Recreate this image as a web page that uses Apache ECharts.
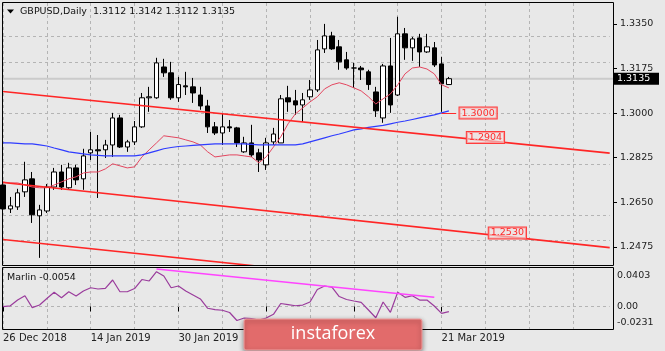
<!DOCTYPE html>
<html>
<head>
<meta charset="utf-8">
<script src="https://cdn.jsdelivr.net/npm/echarts@6/dist/echarts.min.js"></script>
<style>
html,body{margin:0;padding:0;background:#e8e8e8;}
#main{width:665px;height:351px;}
</style>
</head>
<body>
<div id="main"></div>
<script>
// GBPUSD daily bars, 26 Dec 2018 - 22 Mar 2019
var dates = ['26 Dec 2018','27 Dec 2018','28 Dec 2018','31 Dec 2018','2 Jan 2019','3 Jan 2019','4 Jan 2019','7 Jan 2019','8 Jan 2019','9 Jan 2019',
	'10 Jan 2019','11 Jan 2019','14 Jan 2019','15 Jan 2019','16 Jan 2019','17 Jan 2019','18 Jan 2019','21 Jan 2019','22 Jan 2019','23 Jan 2019',
	'24 Jan 2019','25 Jan 2019','28 Jan 2019','29 Jan 2019','30 Jan 2019','31 Jan 2019','1 Feb 2019','4 Feb 2019','5 Feb 2019','6 Feb 2019',
	'7 Feb 2019','8 Feb 2019','11 Feb 2019','12 Feb 2019','13 Feb 2019','14 Feb 2019','15 Feb 2019','18 Feb 2019','19 Feb 2019','20 Feb 2019',
	'21 Feb 2019','22 Feb 2019','25 Feb 2019','26 Feb 2019','27 Feb 2019','28 Feb 2019','1 Mar 2019','4 Mar 2019','5 Mar 2019','6 Mar 2019',
	'7 Mar 2019','8 Mar 2019','11 Mar 2019','12 Mar 2019','13 Mar 2019','14 Mar 2019','15 Mar 2019','18 Mar 2019','19 Mar 2019','20 Mar 2019',
	'21 Mar 2019','22 Mar 2019'];

var openP = [1.2718,1.2624,1.2632,1.2691,1.2742,1.2597,1.2616,1.2710,1.2769,1.2707,
	1.2785,1.2742,1.2844,1.2856,1.2856,1.2875,1.2981,1.2867,1.2887,1.2946,
	1.3060,1.3060,1.3181,1.3158,1.3060,1.3107,1.3103,1.3071,1.3028,1.2946,
	1.2922,1.2946,1.2942,1.2848,1.2883,1.2844,1.2797,1.2887,1.2883,1.3060,
	1.3048,1.3032,1.3064,1.3091,1.3252,1.3303,1.3260,1.3209,1.3177,1.3177,
	1.3162,1.3083,1.2981,1.3185,1.3071,1.3311,1.3256,1.3295,1.3240,1.3256,
	1.3193,1.3112];
var highP = [1.2726,1.2671,1.2703,1.2809,1.2769,1.2640,1.2722,1.2785,1.2797,1.2805,
	1.2797,1.2860,1.2926,1.2914,1.2895,1.3001,1.2993,1.2895,1.2969,1.3079,
	1.3103,1.3217,1.3213,1.3201,1.3142,1.3162,1.3138,1.3103,1.3052,1.2965,
	1.2997,1.2973,1.2946,1.2907,1.2954,1.2860,1.2903,1.2942,1.3071,1.3107,
	1.3091,1.3079,1.3130,1.3287,1.3350,1.3319,1.3287,1.3240,1.3197,1.3185,
	1.3170,1.3103,1.3193,1.3295,1.3378,1.3334,1.3299,1.3311,1.3311,1.3279,
	1.3221,1.3142];
var lowP = [1.2612,1.2608,1.2620,1.2671,1.2569,1.2432,1.2608,1.2699,1.2699,1.2703,
	1.2718,1.2699,1.2816,1.2667,1.2824,1.2828,1.2863,1.2848,1.2875,1.2942,
	1.3005,1.3056,1.3142,1.3052,1.3044,1.3071,1.3040,1.3013,1.2922,1.2914,
	1.2875,1.2926,1.2867,1.2844,1.2828,1.2769,1.2777,1.2875,1.2883,1.3005,
	1.2993,1.2965,1.3052,1.3083,1.3236,1.3248,1.3170,1.3170,1.3099,1.3130,
	1.3091,1.2985,1.2962,1.3001,1.3067,1.3209,1.3205,1.3181,1.3236,1.3181,
	1.3005,1.3112];
var closeP = [1.2624,1.2636,1.2687,1.2738,1.2601,1.2620,1.2710,1.2769,1.2710,1.2785,
	1.2738,1.2832,1.2856,1.2852,1.2875,1.2981,1.2867,1.2887,1.2946,1.3060,
	1.3064,1.3197,1.3158,1.3060,1.3112,1.3103,1.3079,1.3028,1.2946,1.2922,
	1.2946,1.2942,1.2883,1.2883,1.2836,1.2816,1.2883,1.2918,1.3056,1.3044,
	1.3032,1.3052,1.3091,1.3248,1.3303,1.3252,1.3201,1.3177,1.3177,1.3170,
	1.3112,1.3009,1.3185,1.3032,1.3311,1.3256,1.3291,1.3240,1.3260,1.3189,
	1.3115,1.3135];

// moving averages as drawn (red fast, blue slow)
var maFast = [1.2730,1.2726,1.2726,1.2718,1.2710,1.2707,1.2707,1.2718,1.2730,1.2742,
	1.2750,1.2765,1.2769,1.2769,1.2781,1.2801,1.2793,1.2785,1.2789,1.2828,
	1.2856,1.2883,1.2911,1.2907,1.2903,1.2895,1.2887,1.2875,1.2848,1.2828,
	1.2832,1.2836,1.2836,1.2832,1.2828,1.2805,1.2828,1.2867,1.2907,1.2958,
	1.2997,1.3020,1.3044,1.3064,1.3095,1.3111,1.3119,1.3111,1.3099,1.3087,
	1.3064,1.3036,1.3056,1.3075,1.3111,1.3154,1.3177,1.3181,1.3173,1.3154,
	1.3111,1.3099];
var maSlow = [1.2883,1.2883,1.2881,1.2879,1.2879,1.2875,1.2871,1.2863,1.2856,1.2848,
	1.2844,1.2840,1.2836,1.2834,1.2832,1.2832,1.2832,1.2832,1.2832,1.2836,
	1.2844,1.2852,1.2860,1.2865,1.2869,1.2871,1.2873,1.2875,1.2877,1.2879,
	1.2879,1.2879,1.2879,1.2879,1.2877,1.2875,1.2875,1.2875,1.2875,1.2875,
	1.2875,1.2879,1.2887,1.2895,1.2903,1.2911,1.2918,1.2926,1.2934,1.2938,
	1.2944,1.2948,1.2952,1.2958,1.2964,1.2969,1.2975,1.2981,1.2987,1.2993,
	1.3001,1.3009];

var marlin = [-0.0003,0.0006,0.0065,0.0109,-0.0013,0.0014,0.0081,0.0144,0.0089,0.0150,
	0.0106,0.0157,0.0191,0.0178,0.0185,0.0270,0.0150,0.0150,0.0183,0.0275,
	0.0260,0.0355,0.0311,0.0191,0.0209,0.0157,0.0117,0.0076,-0.0019,-0.0032,
	-0.0039,-0.0062,-0.0144,-0.0119,-0.0124,-0.0139,-0.0119,-0.0081,0.0030,0.0019,
	0.0007,0.0014,0.0045,0.0173,0.0209,0.0196,0.0101,0.0071,0.0055,0.0042,
	-0.0037,-0.0116,0.0045,-0.0060,0.0144,0.0093,0.0109,0.0065,0.0065,0.0004,
	-0.0071,-0.0054];

var priceTicks = [1.2475,1.2650,1.2825,1.3000,1.3175,1.3350];
var marlinTicks = [0.0403,0.00,-0.0231];

// trend lines: [bar, value] end points
var trendTop = [[0,1.3085],[83,1.2843]];
var trendMid = [[0,1.2728],[83,1.2472]];
var trendLow = [[0,1.2504],[83,1.2255]];
var marlinTrend = [[21,0.0382],[59,0.0093]];

var levelTags = [
	{bar:65,value:1.3000,text:'1.3000'},
	{bar:66,value:1.2904,text:'1.2904'},
	{bar:69,value:1.2530,text:'1.2530'}
];

var fontFam = '"DejaVu Sans", sans-serif';
var nSlots = 84;
var cats = dates.slice();
while (cats.length < nSlots) cats.push('');
var candles = [];
for (var i = 0; i < dates.length; i++) {
	candles.push([openP[i], closeP[i], lowP[i], highP[i]]);
}
var lastClose = closeP[closeP.length - 1];

function showDate(i){ return i < dates.length && i % 12 === 0; }

function tag(t){
	return {
		coord:[t.bar, t.value],
		value:t.text,
		symbol:'rect', symbolSize:1,
		itemStyle:{color:'rgba(0,0,0,0)'},
		label:{show:true, position:'inside', formatter:t.text, color:'#ff2a2a',
			fontFamily:fontFam, fontSize:9.5, borderColor:'#ff3c3c', borderWidth:1,
			padding:[1,2,0,2], backgroundColor:'rgba(240,225,225,0.6)'}
	};
}

var gridLine = {type:[3,3], color:'#b4b4b4', width:1};
var trendStyle = {color:'#ff2626', width:1.6};

var chart = echarts.init(document.getElementById('main'));

var option = {
	animation:false,
	backgroundColor:'#e8e8e8',
	grid:[
		{left:3, top:3, width:606.7, height:262, outerBoundsMode:'none'},
		{left:3, top:267, width:606.7, height:62, outerBoundsMode:'none'}
	],
	xAxis:[
		{type:'category', gridIndex:0, data:cats, boundaryGap:false,
			axisLine:{show:false}, axisTick:{show:false}, axisLabel:{show:false},
			splitLine:{show:true, interval:5, lineStyle:gridLine}},
		{type:'category', gridIndex:1, data:cats, boundaryGap:false,
			axisLine:{show:false},
			axisTick:{show:true, interval:function(i){return showDate(i);}, length:5, lineStyle:{color:'#000'}},
			axisLabel:{show:true, interval:function(i){return showDate(i);}, align:'left', margin:4,
				color:'#222', fontFamily:fontFam, fontSize:10},
			splitLine:{show:true, interval:5, lineStyle:gridLine}}
	],
	yAxis:[
		{type:'value', gridIndex:0, position:'right', offset:3.3, min:1.2404, max:1.3432,
			axisLine:{show:false},
			axisTick:{show:true, customValues:priceTicks, length:4, lineStyle:{color:'#000'}},
			axisLabel:{show:true, customValues:priceTicks, margin:7, color:'#222', fontFamily:fontFam, fontSize:9.5,
				formatter:function(v){return v.toFixed(4);}},
			splitLine:{show:false}},
		{type:'value', gridIndex:1, position:'right', offset:3.3, min:-0.0231, max:0.0403,
			axisLine:{show:false}, axisTick:{show:false}, axisLabel:{show:false}, splitLine:{show:false}}
	],
	series:[
		{type:'candlestick', xAxisIndex:0, yAxisIndex:0, data:candles, barWidth:5, z:2,
			itemStyle:{color:'#fff', color0:'#000', borderColor:'#000', borderColor0:'#000', borderColorDoji:'#000', borderWidth:1},
			markLine:{z:1, silent:true, symbol:'none', label:{show:false},
				data:priceTicks.map(function(v){return {yAxis:v, lineStyle:gridLine};})}},
		{type:'line', xAxisIndex:0, yAxisIndex:0, data:maFast, showSymbol:false, z:3,
			lineStyle:{color:'#e4465f', width:1}},
		{type:'line', xAxisIndex:0, yAxisIndex:0, data:maSlow, showSymbol:false, z:3,
			lineStyle:{color:'#2f3cff', width:1.2},
			markLine:{silent:true, symbol:'none', label:{show:false},
				data:[[{coord:[60,levelTags[0].value]},{coord:[62,levelTags[0].value]}]],
				lineStyle:{type:'solid', color:'#ff2a2a', width:1}},
			markPoint:{silent:true, data:[tag(levelTags[0])]}},
		{type:'line', xAxisIndex:0, yAxisIndex:0, data:trendTop, showSymbol:false, z:4, lineStyle:trendStyle,
			markPoint:{silent:true, data:[tag(levelTags[1])]}},
		{type:'line', xAxisIndex:0, yAxisIndex:0, data:trendMid, showSymbol:false, z:4, lineStyle:trendStyle,
			markPoint:{silent:true, data:[tag(levelTags[2])]}},
		{type:'line', xAxisIndex:0, yAxisIndex:0, data:trendLow, showSymbol:false, z:4, lineStyle:trendStyle},
		{type:'line', xAxisIndex:1, yAxisIndex:1, data:marlin, showSymbol:false, z:3,
			lineStyle:{color:'#9a3c9c', width:1.2},
			markLine:{z:1, silent:true, symbol:'none', label:{show:false},
				data:[{yAxis:0, lineStyle:gridLine}]}},
		{type:'line', xAxisIndex:1, yAxisIndex:1, data:marlinTrend, showSymbol:false, z:4,
			lineStyle:{color:'#ff44ff', width:1.5}}
	]
};
chart.setOption(option);

// texts, bid line and frames around the plot
var bidY = chart.convertToPixel({yAxisIndex:0}, lastClose);
var gfx = [
	{type:'line', shape:{x1:3, y1:bidY, x2:613, y2:bidY}, style:{stroke:'#cbcbcb', lineWidth:2}, z:1},
	{type:'rect', shape:{x:2.5, y:2.5, width:611, height:263}, style:{fill:null, stroke:'#000', lineWidth:1}, z:50},
	{type:'rect', shape:{x:2.5, y:267.5, width:611, height:62}, style:{fill:null, stroke:'#000', lineWidth:1}, z:50},
	{type:'polygon', shape:{points:[[7,9.5],[14,9.5],[10.5,13.5]]}, style:{fill:'#000'}, z:50},
	{type:'text', x:20, y:12, z:50, style:{text:'GBPUSD,Daily  ' + [openP[61], highP[61], lowP[61], closeP[61]].map(function(v){return v.toFixed(4);}).join(' '),
		fill:'#111', font:'9.5px ' + fontFam, verticalAlign:'middle'}},
	{type:'text', x:7, y:277.5, z:50, style:{text:'Marlin ' + marlin[marlin.length - 1].toFixed(4),
		fill:'#111', font:'9.5px ' + fontFam, verticalAlign:'middle'}},
	{type:'rect', shape:{x:614, y:bidY - 6, width:45, height:12}, style:{fill:'#000'}, z:50},
	{type:'text', x:617, y:bidY, z:51, style:{text:lastClose.toFixed(4), fill:'#fff', font:'9.5px ' + fontFam, verticalAlign:'middle'}}
];
var shifts = [9, 0.3, -6.3];
for (var k = 0; k < marlinTicks.length; k++) {
	var ty = chart.convertToPixel({yAxisIndex:1}, marlinTicks[k]);
	gfx.push({type:'text', x:617, y:ty + shifts[k], z:50,
		style:{text:marlinTicks[k] === 0 ? '0.00' : marlinTicks[k].toFixed(4), fill:'#222', font:'9.5px ' + fontFam, verticalAlign:'middle'}});
}
// watermark
gfx.push({type:'rect', shape:{x:244, y:319, width:178, height:31, r:2}, z:60,
	style:{fill:'#e26b6b', stroke:'#f0a0a0', lineWidth:1, shadowBlur:5, shadowColor:'rgba(0,0,0,0.45)', shadowOffsetY:2}});
gfx.push({type:'text', x:333, y:334, z:61, style:{text:'instaforex', fill:'#fff', font:'18px "Open Sans", sans-serif',
	align:'center', verticalAlign:'middle'}});

chart.setOption({graphic:gfx});
</script>
</body>
</html>
